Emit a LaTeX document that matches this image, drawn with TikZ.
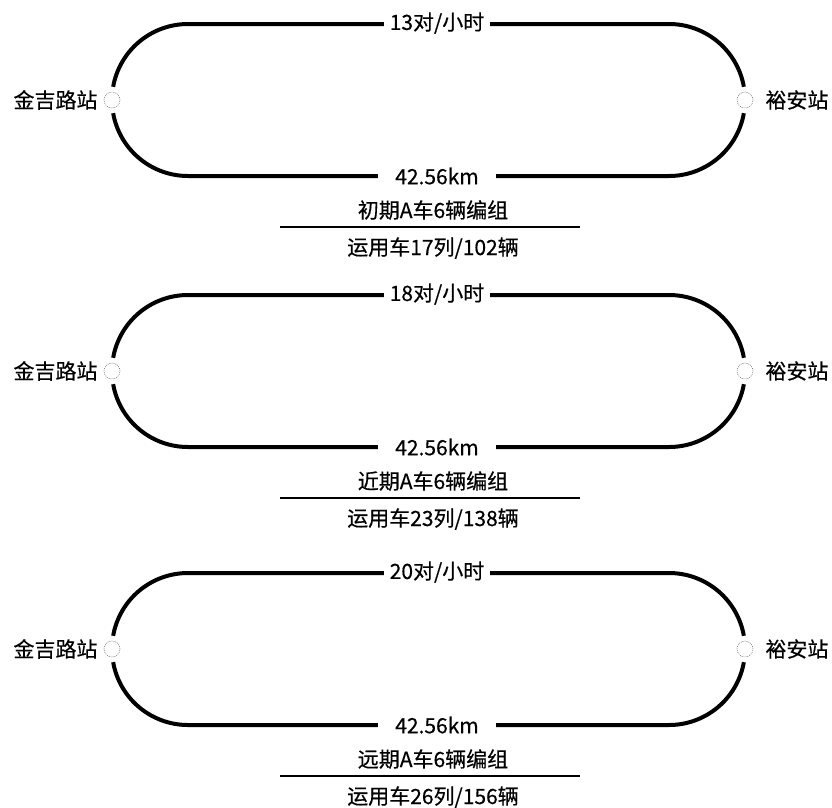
\documentclass[tikz,border=0pt]{standalone}
\usepackage{fontspec}
\setmainfont{Noto Sans CJK SC}
\newfontfamily\lblfont[FakeBold=0.4]{Noto Sans CJK SC}
\begin{document}
\begin{tikzpicture}[x=1pt,y=1pt,
  track/.style={line width=4pt},
  lbl/.style={font=\lblfont\fontsize{21}{24}\selectfont, inner sep=0pt},
  toplbl/.style={lbl, fill=white, inner xsep=6pt, inner ysep=3pt},
  botlbl/.style={lbl, fill=white, inner xsep=17pt, inner ysep=3pt},
  stn/.style={circle, draw=gray, dash pattern=on 1pt off 1pt, line width=0.6pt, minimum size=16pt, inner sep=0pt},
  rulefine/.style={line width=1.5pt}]
\useasboundingbox (0,-807) rectangle (832,0);
\foreach \i/\cy/\freq/\phase/\ncar/\ntot in {1/-100/13/初期/17/102, 2/-371/18/近期/23/138, 3/-649/20/远期/26/156}{
  % track loop
  \draw[track] ([shift={(188,\cy)}]170:76) arc[start angle=170,end angle=90,radius=76]
     -- (669,\cy+76) arc[start angle=90,end angle=10,radius=76];
  \draw[track] ([shift={(188,\cy)}]190:76) arc[start angle=190,end angle=270,radius=76]
     -- (669,\cy-76) arc[start angle=-90,end angle=-10,radius=76];
  % stations
  \node[stn] (A\i) at (112,\cy) {};
  \node[stn] (B\i) at (745,\cy) {};
  \node[lbl, anchor=east] (An\i) at ([xshift=-6pt]A\i.west) {金吉路站};
  \node[lbl, anchor=west] (Bn\i) at ([xshift=12pt]B\i.east) {裕安站};
  % labels on the track
  \node[toplbl] (F\i) at (437,\cy+77) {\freq 对/小时};
  \node[botlbl] (K\i) at (437,\cy-76) {42.56km};
  % phase and rolling stock
  \node[lbl] (P\i) at (433,\cy-110) {\phase A车6辆编组};
  \coordinate (R\i a) at (280,\cy-127);
  \coordinate (R\i b) at (580,\cy-127);
  \draw[rulefine] (R\i a) -- (R\i b);
  \node[lbl] (C\i) at (433,\cy-148) {运用车\ncar 列/\ntot 辆};
}
\end{tikzpicture}
\end{document}
